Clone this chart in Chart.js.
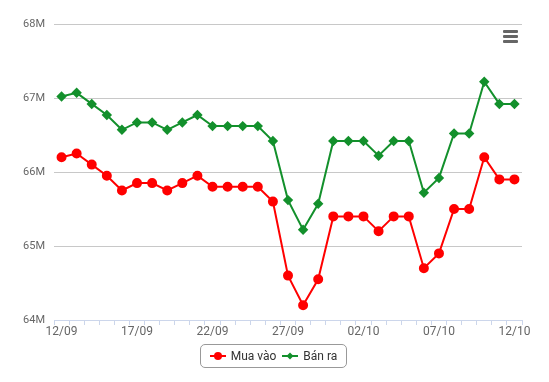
<!DOCTYPE html>
<html lang="vi">
<head>
<meta charset="UTF-8">
<title>Giá vàng - Mua vào / Bán ra</title>
<script src="https://cdn.jsdelivr.net/npm/chart.js"></script>
<style>
    body { margin: 0; background: #fff; }
    .wrap { position: relative; width: 549px; height: 382px; }
    .menu { position: absolute; left: 503px; top: 30px; width: 15px; }
    .menu span { display: block; height: 3px; background: #666; margin-bottom: 2px; border-radius: 1px; }
    .legend {
        position: absolute; left: 200px; top: 344px; width: 145px; height: 22px;
        border: 1px solid #999; border-radius: 5px;
        display: flex; align-items: center; justify-content: center;
        font: 12px Roboto, sans-serif; color: #333;
    }
    .legend .item { display: flex; align-items: center; margin: 0 3px; }
    .legend svg { margin-right: 5px; }
</style>
</head>
<body>
<div class="wrap">
    <canvas id="goldChart" width="549" height="382"></canvas>
    <div class="menu"><span></span><span></span><span></span></div>
    <div class="legend" id="legend"></div>
</div>

<script>
    // Dates on the x axis
    const labels = [
        '12/09', '13/09', '14/09', '15/09', '16/09', '17/09', '18/09', '19/09', '20/09', '21/09',
        '22/09', '23/09', '24/09', '25/09', '26/09', '27/09', '28/09', '29/09', '30/09', '01/10',
        '02/10', '03/10', '04/10', '05/10', '06/10', '07/10', '08/10', '09/10', '10/10', '11/10', '12/10'
    ];

    // Prices (VND)
    const muaVao = [
        66200000, 66250000, 66100000, 65950000, 65750000, 65850000, 65850000, 65750000, 65850000, 65950000,
        65800000, 65800000, 65800000, 65800000, 65600000, 64600000, 64200000, 64550000, 65400000, 65400000,
        65400000, 65200000, 65400000, 65400000, 64700000, 64900000, 65500000, 65500000, 66200000, 65900000, 65900000
    ];
    const banRa = [
        67020000, 67070000, 66920000, 66770000, 66570000, 66670000, 66670000, 66570000, 66670000, 66770000,
        66620000, 66620000, 66620000, 66620000, 66420000, 65620000, 65220000, 65570000, 66420000, 66420000,
        66420000, 66220000, 66420000, 66420000, 65720000, 65920000, 66520000, 66520000, 67220000, 66920000, 66920000
    ];

    const yMin = 64000000;
    const yMax = 68000000;
    const yStep = 1000000;

    const series = [
        { name: 'Mua vào', data: muaVao, color: '#ff0000', marker: 'circle', radius: 4 },
        { name: 'Bán ra', data: banRa, color: '#13902c', marker: 'rectRot', radius: 3.8 }
    ];

    const ctx = document.getElementById('goldChart').getContext('2d');
    new Chart(ctx, {
        type: 'line',
        data: {
            labels: labels,
            datasets: series.map(s => ({
                label: s.name,
                data: s.data,
                borderColor: s.color,
                backgroundColor: s.color,
                borderWidth: 2,
                pointStyle: s.marker,
                pointRadius: s.radius,
                pointHoverRadius: 5,
                tension: 0
            }))
        },
        options: {
            responsive: false,
            animation: false,
            layout: { padding: { top: 24, right: 27, left: 0, bottom: 0 } },
            plugins: { legend: { display: false }, tooltip: { enabled: false } },
            scales: {
                x: {
                    offset: true,
                    grid: { drawOnChartArea: false, color: '#ccd6eb', tickLength: 5, offset: true },
                    border: { color: '#ccd6eb' },
                    ticks: {
                        autoSkip: false, maxRotation: 0, padding: 0,
                        color: '#666', font: { family: 'Roboto', size: 12 },
                        callback: (v, i) => i % 5 === 0 ? labels[i] : ''
                    },
                    afterFit: scale => { scale.height = 62; }
                },
                y: {
                    min: yMin, max: yMax,
                    grid: { color: '#c8c8c8', drawTicks: false },
                    border: { display: false },
                    ticks: {
                        stepSize: yStep, padding: 9,
                        color: '#666', font: { family: 'Roboto', size: 11 },
                        callback: v => (v / 1000000) + 'M'
                    },
                    afterFit: scale => { scale.width = 54; }
                }
            }
        }
    });

    // HTML legend: line + marker, like the original
    const legend = document.getElementById('legend');
    series.forEach(s => {
        const mark = s.marker === 'circle'
            ? '<circle cx="8" cy="5" r="4" fill="' + s.color + '"/>'
            : '<polygon points="8,1.5 11.5,5 8,8.5 4.5,5" fill="' + s.color + '"/>';
        legend.innerHTML += '<span class="item"><svg width="16" height="10">' +
            '<line x1="0" y1="5" x2="16" y2="5" stroke="' + s.color + '" stroke-width="2"/>' +
            mark + '</svg>' + s.name + '</span>';
    });
</script>
</body>
</html>
